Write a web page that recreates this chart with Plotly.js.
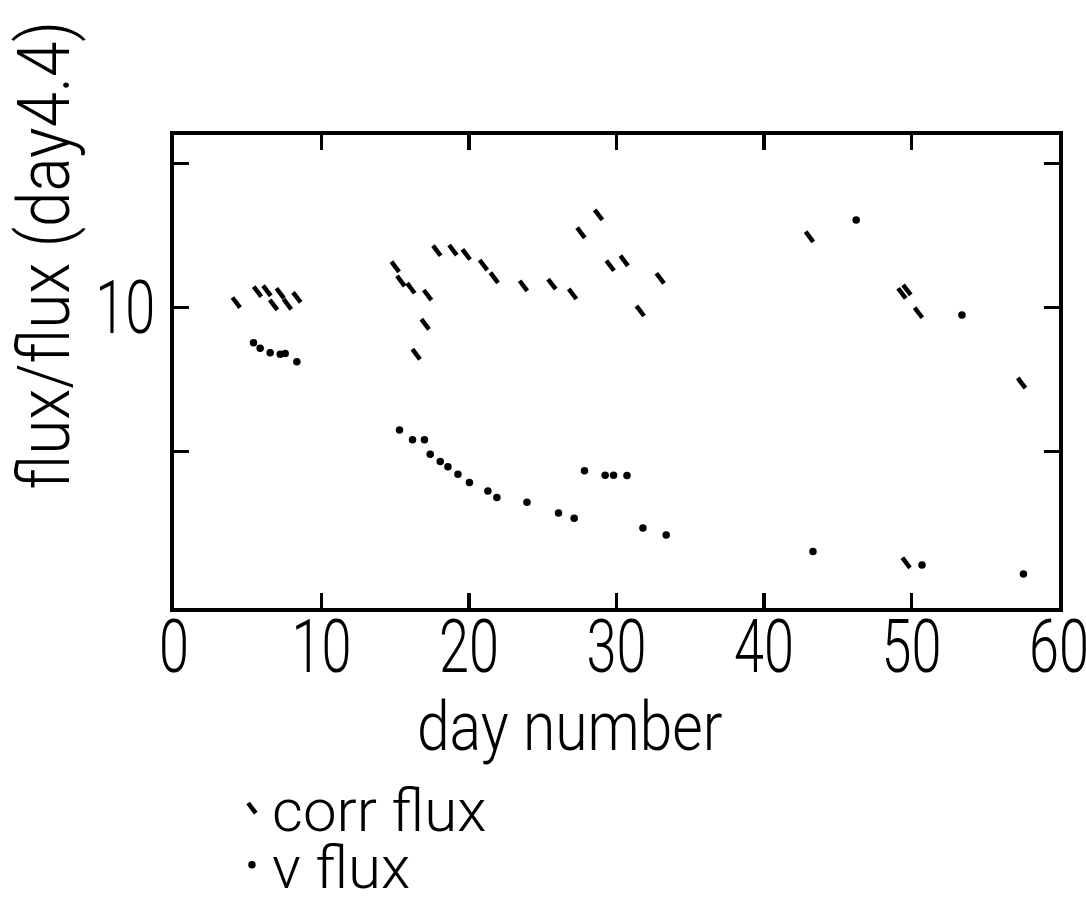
<!DOCTYPE html>
<html>
<head>
<meta charset="utf-8">
<script src="https://cdn.plot.ly/plotly-3.0.1.min.js"></script>
<style>
  html, body { margin: 0; padding: 0; background: #ffffff; }
  #chart { width: 1086px; height: 907px; }
</style>
</head>
<body>
<div id="chart"></div>
<script>
// Correlated flux ratio (short slanted dashes)
const corrDay  = [4.22, 5.66, 6.30, 6.75, 7.20, 7.69, 8.33,
                  15.00, 15.38, 16.06, 17.19, 17.03, 16.42,
                  17.82, 18.91, 19.81, 20.98, 21.71, 23.69, 25.62, 27.02,
                  27.59, 28.78, 29.57, 30.52, 32.96, 31.61,
                  43.08, 49.35, 49.69, 50.47, 57.46, 49.64];
const corrFlux = [10.17, 10.55, 10.58, 10.09, 10.49, 10.11, 10.35,
                  11.41, 10.92, 10.67, 10.43, 9.42, 8.38,
                  11.97, 11.99, 11.84, 11.47, 11.03, 10.75, 10.81, 10.47,
                  12.59, 13.21, 11.45, 11.62, 11.01, 9.88,
                  12.45, 10.49, 10.61, 9.82, 7.38, 1.15];

// V-band flux ratio (dots)
const vDay  = [5.39, 5.84, 6.52, 7.20, 7.54, 8.33,
               15.29, 16.17, 16.98, 17.37, 18.05, 18.57, 19.25, 20.03,
               21.28, 21.89, 23.93, 26.07, 27.13,
               27.83, 29.23, 29.80, 30.71, 31.79, 33.37,
               43.32, 50.71, 57.59, 53.42, 46.25];
const vFlux = [8.78, 8.59, 8.43, 8.38, 8.40, 8.12,
               5.75, 5.41, 5.41, 4.91, 4.66, 4.48, 4.22, 3.93,
               3.64, 3.41, 3.25, 2.87, 2.69,
               4.34, 4.18, 4.18, 4.17, 2.35, 2.11,
               1.54, 1.07, 0.76, 9.74, 13.03];

const xTickVals = [0, 10, 20, 30, 40, 50, 60];
const yTickVals = [5, 10, 15];
const yTickText = ['', '10', ''];

const FONT = 'Roboto, "Liberation Sans", sans-serif';
const INK = '#000000';

const traces = [
  {
    x: corrDay, y: corrFlux,
    type: 'scatter', mode: 'markers',
    name: 'corr flux',
    legend: 'legend',
    marker: { symbol: 'line-nw', size: 9, angle: 8, color: INK,
              line: { width: 4.5, color: INK } },
    hoverinfo: 'x+y'
  },
  {
    x: vDay, y: vFlux,
    type: 'scatter', mode: 'markers',
    name: 'v flux',
    legend: 'legend2',
    marker: { symbol: 'circle', size: 7.5, color: INK },
    hoverinfo: 'x+y'
  }
];

const axisCommon = {
  showgrid: false, zeroline: false,
  showline: true, linecolor: INK, linewidth: 4,
  mirror: 'ticks',
  ticks: 'inside', ticklen: 15, tickwidth: 3.5, tickcolor: INK,
  ticklabeloverflow: 'allow',
  tickfont: { family: FONT, size: 74, weight: 300, color: INK }
};

const layout = {
  width: 1086, height: 907,
  paper_bgcolor: '#ffffff', plot_bgcolor: '#ffffff',
  margin: { l: 174, r: 27, t: 135, b: 299, autoexpand: false },
  showlegend: true,
  font: { family: FONT, color: INK },
  xaxis: Object.assign({}, axisCommon, {
    range: [0, 60], tickmode: 'array', tickvals: xTickVals,
    ticktext: xTickVals.map(String), ticklabelstandoff: -29
  }),
  yaxis: Object.assign({}, axisCommon, {
    range: [-0.42, 15.98], tickmode: 'array', tickvals: yTickVals,
    ticktext: yTickText
  }),
  legend: {
    x: 0.0655, y: -0.423, xanchor: 'left', yanchor: 'middle',
    bgcolor: 'rgba(0,0,0,0)', borderwidth: 0,
    font: { family: FONT, size: 60, weight: 300, color: INK }
  },
  legend2: {
    x: 0.0655, y: -0.543, xanchor: 'left', yanchor: 'middle',
    bgcolor: 'rgba(0,0,0,0)', borderwidth: 0,
    font: { family: FONT, size: 60, weight: 300, color: INK }
  },
  annotations: [
    {
      text: 'flux/flux (day4.4)', textangle: -90,
      xref: 'paper', yref: 'paper', x: -0.147, y: 0.746,
      xanchor: 'center', yanchor: 'middle', showarrow: false,
      font: { family: FONT, size: 72, weight: 300, color: INK }
    },
    {
      text: 'day number',
      xref: 'paper', yref: 'paper', x: 0.447, y: -0.252,
      xanchor: 'center', yanchor: 'middle', showarrow: false,
      font: { family: FONT, size: 68, weight: 300, color: INK }
    }
  ]
};

// The lettering is a narrow stencil face: squeeze each text horizontally
// about its own anchor point so that positions stay where Plotly put them.
function condense(selector, factor) {
  document.querySelectorAll(selector).forEach(function (t) {
    const bb = t.getBBox();
    const anchor = t.getAttribute('text-anchor') || window.getComputedStyle(t).textAnchor || 'start';
    const ax = anchor === 'middle' ? bb.x + bb.width / 2
             : anchor === 'end' ? bb.x + bb.width : bb.x;
    const ay = bb.y + bb.height / 2;
    const prev = t.getAttribute('transform') || '';
    t.setAttribute('transform',
      prev + ' translate(' + ax + ',' + ay + ') scale(' + factor + ',1) translate(' + (-ax) + ',' + (-ay) + ')');
  });
}

Plotly.newPlot('chart', traces, layout, { displayModeBar: false, staticPlot: true })
  .then(function () {
    condense('.xtick text', 0.73);
    condense('.ytick text', 0.73);
    const ann = document.querySelectorAll('.annotation-text');
    ann.forEach(function (t, i) {
      t.classList.add(i === 0 ? 'ann-ytitle' : 'ann-xtitle');
    });
    condense('.ann-ytitle', 0.885);
    condense('.ann-xtitle', 0.865);
  });
</script>
</body>
</html>
